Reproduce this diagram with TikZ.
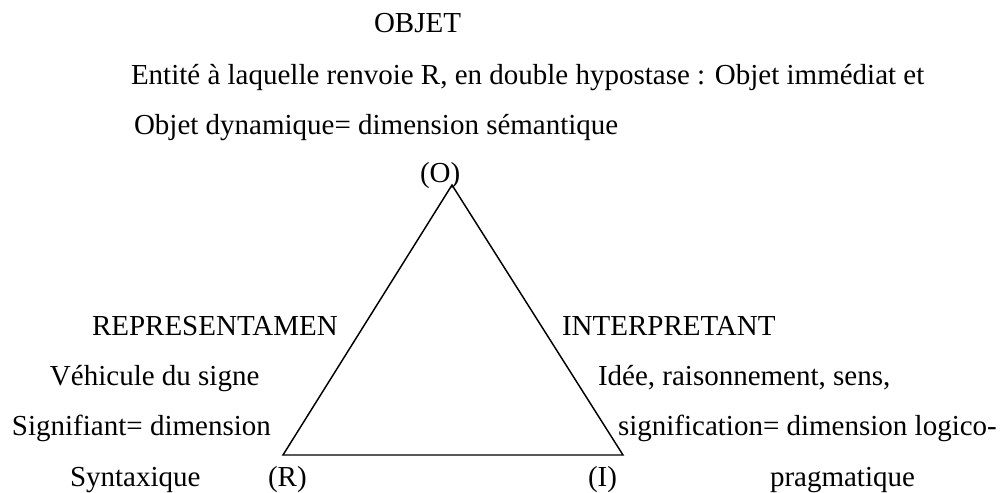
\documentclass[tikz,border=0pt]{standalone}
\usepackage{fontspec}
\setmainfont{Liberation Serif}
\begin{document}
\begin{tikzpicture}[x=0.75pt,y=-0.75pt,
  lbl/.style={anchor=base west,inner sep=0pt,outer sep=0pt,font=\fontsize{21.75}{26}\selectfont},
  edge/.style={line width=1.1pt,line join=miter}]
\useasboundingbox (0,0) rectangle (1004,493);
% triangle corners
\coordinate (vO) at (452,185);
\coordinate (vR) at (283,455);
\coordinate (vI) at (623,455);
\draw[edge] (vO) -- (vR) -- (vI) -- cycle;
% top texts
\node[lbl] (objet) at (374,32) {OBJET};
\node[lbl] (ent) at (131,84) {Entité à laquelle renvoie R, en double hypostase : Objet immédiat et};
\node[lbl] (objdyn) at (134,134) {Objet dynamique= dimension sémantique};
\node[lbl] (Olab) at (420,182) {(O)};
% left texts
\node[lbl] (rep) at (92,335) {REPRESENTAMEN};
\node[lbl] (veh) at (50,385) {Véhicule du signe};
\node[lbl] (sig) at (12,435) {Signifiant= dimension};
\node[lbl] (syn) at (70,486) {Syntaxique};
\node[lbl] (Rlab) at (268,486) {(R)};
% right texts
\node[lbl] (int) at (562,335) {INTERPRETANT};
\node[lbl] (idee) at (598,385) {Idée, raisonnement, sens,};
\node[lbl] (sgn) at (618,435) {signification= dimension logico-};
\node[lbl] (Ilab) at (588,486) {(I)};
\node[lbl] (prag) at (770,486) {pragmatique};
\end{tikzpicture}
\end{document}
